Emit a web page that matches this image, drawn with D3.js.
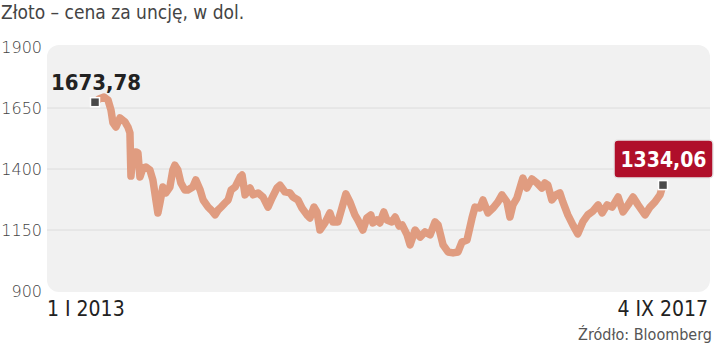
<!DOCTYPE html>
<html>
<head>
<meta charset="utf-8">
<script src="https://cdn.jsdelivr.net/npm/d3@7"></script>
<style>
  body { margin: 0; background: #fff; }
  svg text { font-family: "DejaVu Sans Condensed", "Liberation Sans Narrow", "Roboto", sans-serif; }
  .grid line { stroke: #dcdcdc; stroke-width: 1; }
  .y.axis text { fill: #444; font-size: 16px; font-family: "DejaVu Sans", sans-serif; font-weight: 300; }
  .big { font-family: "DejaVu Sans Condensed", sans-serif; font-weight: bold; }
</style>
</head>
<body>
<svg id="chart" width="720" height="345"></svg>
<script>
// data
const dates = [
  "2013-01-01","2013-01-13","2013-01-28","2013-02-09","2013-02-18","2013-02-24","2013-03-05","2013-03-17",
  "2013-04-01","2013-04-10","2013-04-16","2013-04-19","2013-04-25","2013-05-04","2013-05-10","2013-05-16",
  "2013-05-25","2013-06-03","2013-06-15","2013-06-24","2013-07-03","2013-07-09","2013-07-15","2013-07-24",
  "2013-08-02","2013-08-14","2013-08-23","2013-08-29","2013-09-07","2013-09-16","2013-09-28","2013-10-07",
  "2013-10-22","2013-10-31","2013-11-13","2013-11-22","2013-12-07","2013-12-16","2013-12-28","2014-01-06",
  "2014-01-15","2014-01-27","2014-02-05","2014-02-14","2014-02-26","2014-03-13","2014-03-19","2014-03-28",
  "2014-04-12","2014-04-21","2014-05-06","2014-05-21","2014-06-05","2014-06-17","2014-07-02","2014-07-11",
  "2014-07-26","2014-08-10","2014-08-19","2014-09-03","2014-09-15","2014-09-30","2014-10-09","2014-10-21",
  "2014-10-30","2014-11-08","2014-11-23","2014-12-08","2014-12-17","2015-01-01","2015-01-13","2015-01-25",
  "2015-02-06","2015-02-21","2015-03-02","2015-03-17","2015-03-29","2015-04-10","2015-04-16","2015-04-28",
  "2015-05-07","2015-05-19","2015-05-28","2015-06-12","2015-06-22","2015-07-04","2015-07-13","2015-07-28",
  "2015-08-06","2015-08-21","2015-09-05","2015-09-20","2015-10-05","2015-10-20","2015-10-29","2015-11-13",
  "2015-11-28","2015-12-13","2015-12-28","2016-01-09","2016-01-24","2016-02-08","2016-02-17","2016-03-03",
  "2016-03-12","2016-03-27","2016-04-11","2016-04-26","2016-05-08","2016-05-23","2016-06-01","2016-06-10",
  "2016-06-22","2016-07-01","2016-07-10","2016-07-22","2016-08-06","2016-08-21","2016-09-05","2016-09-14",
  "2016-09-23","2016-10-05","2016-10-17","2016-10-29","2016-11-07","2016-11-22","2016-12-07","2016-12-22",
  "2017-01-06","2017-01-21","2017-02-06","2017-02-21","2017-03-05","2017-03-20","2017-04-04","2017-04-22",
  "2017-05-07","2017-05-22","2017-06-06","2017-06-21","2017-07-12","2017-07-27","2017-08-11","2017-08-26",
  "2017-09-04"
];
const prices = [
  1673.78,1687,1695,1683,1642,1589,1572,1609,
  1593,1572,1548,1371,1466,1470,1466,1367,
  1404,1408,1396,1355,1273,1220,1261,1326,
  1302,1326,1396,1416,1396,1343,1314,1314,
  1326,1355,1314,1273,1244,1232,1212,1232,
  1244,1261,1273,1314,1326,1367,1375,1294,
  1322,1294,1302,1285,1244,1281,1322,1334,
  1306,1302,1285,1273,1240,1212,1199,1244,
  1224,1150,1179,1220,1183,1183,1240,1298,
  1265,1212,1191,1150,1199,1212,1179,1191,
  1179,1224,1191,1183,1203,1166,1171,1130,
  1089,1150,1121,1142,1130,1183,1171,1089,
  1060,1056,1060,1101,1109,1199,1244,1240,
  1273,1220,1240,1265,1294,1265,1203,1253,
  1281,1322,1363,1322,1359,1343,1322,1343,
  1334,1273,1294,1302,1265,1212,1171,1134,
  1183,1212,1228,1253,1220,1253,1244,1285,
  1224,1253,1285,1253,1212,1244,1265,1294,
  1334.06
];
const yTicks = [900, 1150, 1400, 1650, 1900];
const xLabels = ["1 I 2013", "4 IX 2017"];
const title = "Złoto – cena za uncję, w dol.";
const source = "Źródło: Bloomberg";

const plFmt = v => d3.format(".2f")(v).replace(".", ",");

const parse = d3.timeParse("%Y-%m-%d");
const data = dates.map((d, i) => ({ date: parse(d), value: prices[i] }));

const plot = { left: 47, right: 710, top: 45, bottom: 292 };

const x = d3.scaleTime()
  .domain(d3.extent(data, d => d.date))
  .range([95, 663]);
const y = d3.scaleLinear().domain([900, 1900]).range([291, 47]);

const svg = d3.select("#chart");

svg.append("text")
  .attr("x", 1).attr("y", 19)
  .attr("fill", "#444").attr("font-size", 19)
  .text(title);

svg.append("rect")
  .attr("x", plot.left).attr("y", plot.top)
  .attr("width", plot.right - plot.left).attr("height", plot.bottom - plot.top)
  .attr("rx", 12).attr("fill", "#f1f1f1");

svg.append("g").attr("class", "grid")
  .selectAll("line")
  .data(yTicks.slice(1, -1))
  .join("line")
  .attr("x1", plot.left).attr("x2", plot.right)
  .attr("y1", d => y(d)).attr("y2", d => y(d));

const yAxis = d3.axisLeft(y).tickValues(yTicks).tickSize(0).tickPadding(0).tickFormat(d3.format("d"));
svg.append("g").attr("class", "y axis")
  .attr("transform", "translate(42,0)")
  .call(yAxis)
  .call(g => g.select(".domain").remove());

const line = d3.line()
  .x(d => x(d.date))
  .y(d => y(d.value));

svg.append("path")
  .datum(data)
  .attr("fill", "none")
  .attr("stroke", "#e09c80")
  .attr("stroke-width", 7.5)
  .attr("stroke-linejoin", "round")
  .attr("stroke-linecap", "round")
  .attr("d", line);

const first = data[0], last = data[data.length - 1];

// end markers
svg.selectAll("rect.marker")
  .data([first, last])
  .join("rect")
  .attr("class", "marker")
  .attr("x", d => x(d.date) - 4.5).attr("y", d => y(d.value) - 4.5)
  .attr("width", 9).attr("height", 9)
  .attr("fill", "#4a4a4a").attr("stroke", "#fff").attr("stroke-width", 1.5);

// start label
svg.append("text")
  .attr("class", "big")
  .attr("x", x(first.date) + 1).attr("y", 90)
  .attr("text-anchor", "middle")
  .attr("font-size", 22).attr("fill", "#222")
  .text(plFmt(first.value));

// end label box
const endG = svg.append("g");
endG.append("rect")
  .attr("x", 614).attr("y", 140)
  .attr("width", 99).attr("height", 38).attr("rx", 4)
  .attr("fill", "#b00f2a").attr("stroke", "#e6e6e6").attr("stroke-width", 1.5);
endG.append("text")
  .attr("class", "big")
  .attr("x", 663.5).attr("y", 167)
  .attr("text-anchor", "middle")
  .attr("font-size", 21).attr("fill", "#fff")
  .text(plFmt(last.value));

// bottom date labels
svg.append("text")
  .attr("x", plot.left).attr("y", 316)
  .attr("font-size", 21).attr("fill", "#222")
  .text(xLabels[0]);
svg.append("text")
  .attr("x", 708).attr("y", 316)
  .attr("text-anchor", "end")
  .attr("font-size", 21).attr("fill", "#222")
  .text(xLabels[1]);

svg.append("text")
  .attr("x", 712).attr("y", 340)
  .attr("text-anchor", "end")
  .attr("font-size", 16).attr("fill", "#555")
  .text(source);
</script>
</body>
</html>
